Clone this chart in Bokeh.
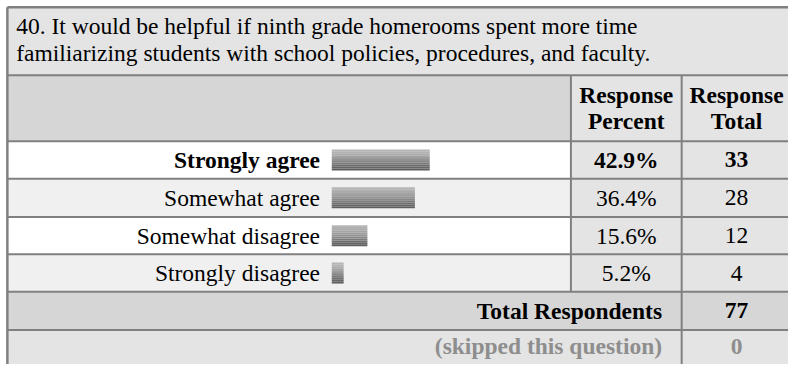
from bokeh.plotting import figure
from bokeh.models import Range1d, ColumnDataSource
from bokeh.core.properties import value
from bokeh.embed import file_html
from bokeh.resources import INLINE

# ---- data ----
question = ["40. It would be helpful if ninth grade homerooms spent more time",
            "familiarizing students with school policies, procedures, and faculty."]
categories = ["Strongly agree", "Somewhat agree", "Somewhat disagree", "Strongly disagree"]
percents = [42.9, 36.4, 15.6, 5.2]
counts = [33, 28, 12, 4]
total_respondents = 77
skipped = 0
header_pct = ["Response", "Percent"]
header_tot = ["Response", "Total"]

# ---- layout (reference pixel coordinates) ----
FONT = value("Liberation Serif")
FS = "23.5px"
BORDER = "#808080"
X0, X1, X2, XR = 7, 582, 695, 812
Y_TITLE, Y_HEAD = 7, 78
Y_ROWS = [147, 186, 226, 265]
Y_TOTAL, Y_SKIP, Y_END = 304, 344, 400
BAR_X = 338
PX_PER_PCT = 2.33
BAR_H = 22
GRAD = ["#b6b6b6", "#b1b1b1", "#ababab", "#a4a4a4", "#9c9c9c", "#929292",
        "#878787", "#7b7b7b", "#6f6f6f", "#666666", "#5f5f5f"]
TXT_SHIFT = 8  # compensation for svg baseline placement

p = figure(width=788, height=364, output_backend="svg", toolbar_location=None,
           x_range=Range1d(0, 804), y_range=Range1d(380, 0),
           min_border=0, outline_line_color=None)
p.axis.visible = False
p.grid.visible = False
p.background_fill_color = "white"
p.border_fill_color = "white"

# backgrounds
row_bg = ["#ffffff", "#f0f0f0", "#ffffff", "#f0f0f0"]
bg = dict(left=[], right=[], top=[], bottom=[], color=[])
def cell(l, r, t, b, c):
    bg["left"].append(l); bg["right"].append(r); bg["top"].append(t); bg["bottom"].append(b); bg["color"].append(c)
cell(X0, XR, Y_TITLE, Y_HEAD, "#e4e4e4")
cell(X0, X1, Y_HEAD, Y_ROWS[0], "#d6d6d6")
cell(X1, XR, Y_HEAD, Y_ROWS[0], "#e4e4e4")
row_edges = Y_ROWS + [Y_TOTAL]
for i in range(len(categories)):
    cell(X0, X1, row_edges[i], row_edges[i + 1], row_bg[i])
    cell(X1, XR, row_edges[i], row_edges[i + 1], "#e4e4e4")
cell(X0, XR, Y_TOTAL, Y_SKIP, "#d6d6d6")
cell(X0, XR, Y_SKIP, Y_END, "#e4e4e4")
p.quad(source=ColumnDataSource(bg), left="left", right="right", top="top", bottom="bottom",
       fill_color="color", line_color=None)

# bars (gradient via stripes)
centers = [(row_edges[i] + row_edges[i + 1]) / 2 for i in range(len(categories))]
stripe_h = BAR_H / len(GRAD)
for k, col in enumerate(GRAD):
    src = ColumnDataSource(dict(
        left=[BAR_X] * len(percents),
        right=[BAR_X + v * PX_PER_PCT for v in percents],
        top=[c - BAR_H / 2 + k * stripe_h for c in centers],
        bottom=[c - BAR_H / 2 + (k + 1) * stripe_h for c in centers]))
    p.quad(source=src, left="left", right="right", top="top", bottom="bottom",
           fill_color=col, line_color=None)

# grid lines
hx0, hx1, hy = [], [], []
for y in [Y_HEAD] + row_edges + [Y_SKIP]:
    hx0.append(X0); hx1.append(XR); hy.append(y)
p.segment(x0=hx0, y0=hy, x1=hx1, y1=hy, line_color=BORDER, line_width=2)
p.segment(x0=[X1, X2], y0=[Y_HEAD, Y_HEAD], x1=[X1, X2], y1=[Y_TOTAL, Y_END],
          line_color=BORDER, line_width=2)
p.segment(x0=[X0], y0=[Y_TITLE], x1=[XR], y1=[Y_TITLE], line_color=BORDER, line_width=2.5)
p.segment(x0=[X0], y0=[Y_TITLE], x1=[X0], y1=[Y_END], line_color=BORDER, line_width=2.5)

def txt(x, y, s, align="left", bold=False, color="#000000"):
    p.text(x=[x], y=[y - TXT_SHIFT], text=[s], text_font=FONT, text_font_size=FS,
           text_align=align, text_baseline="alphabetic", text_color=color,
           text_font_style="bold" if bold else "normal")

# title
txt(16, 35, question[0])
txt(16, 63, question[1])
# header
cx_pct, cx_tot = (X1 + X2) / 2, 751
txt(cx_pct, 107, header_pct[0], "center", True)
txt(cx_pct, 134, header_pct[1], "center", True)
txt(cx_tot, 107, header_tot[0], "center", True)
txt(cx_tot, 134, header_tot[1], "center", True)
# rows
top_i = percents.index(max(percents))
for i, (c, v, n) in enumerate(zip(categories, percents, counts)):
    b = i == top_i
    yb = centers[i] + 8
    txt(326, yb, c, "right", b)
    txt(cx_pct, yb, f"{v:.1f}%", "center", b)
    txt(cx_tot, yb, str(n), "center", b)
# totals
txt(675, Y_TOTAL + 28, "Total Respondents", "right", True)
txt(cx_tot, Y_TOTAL + 28, str(total_respondents), "center", True)
txt(675, Y_SKIP + 25, "(skipped this question)", "right", True, "#8e8e8e")
txt(cx_tot, Y_SKIP + 25, str(skipped), "center", True, "#8e8e8e")

open("out.html", "w").write(file_html(p, INLINE))
